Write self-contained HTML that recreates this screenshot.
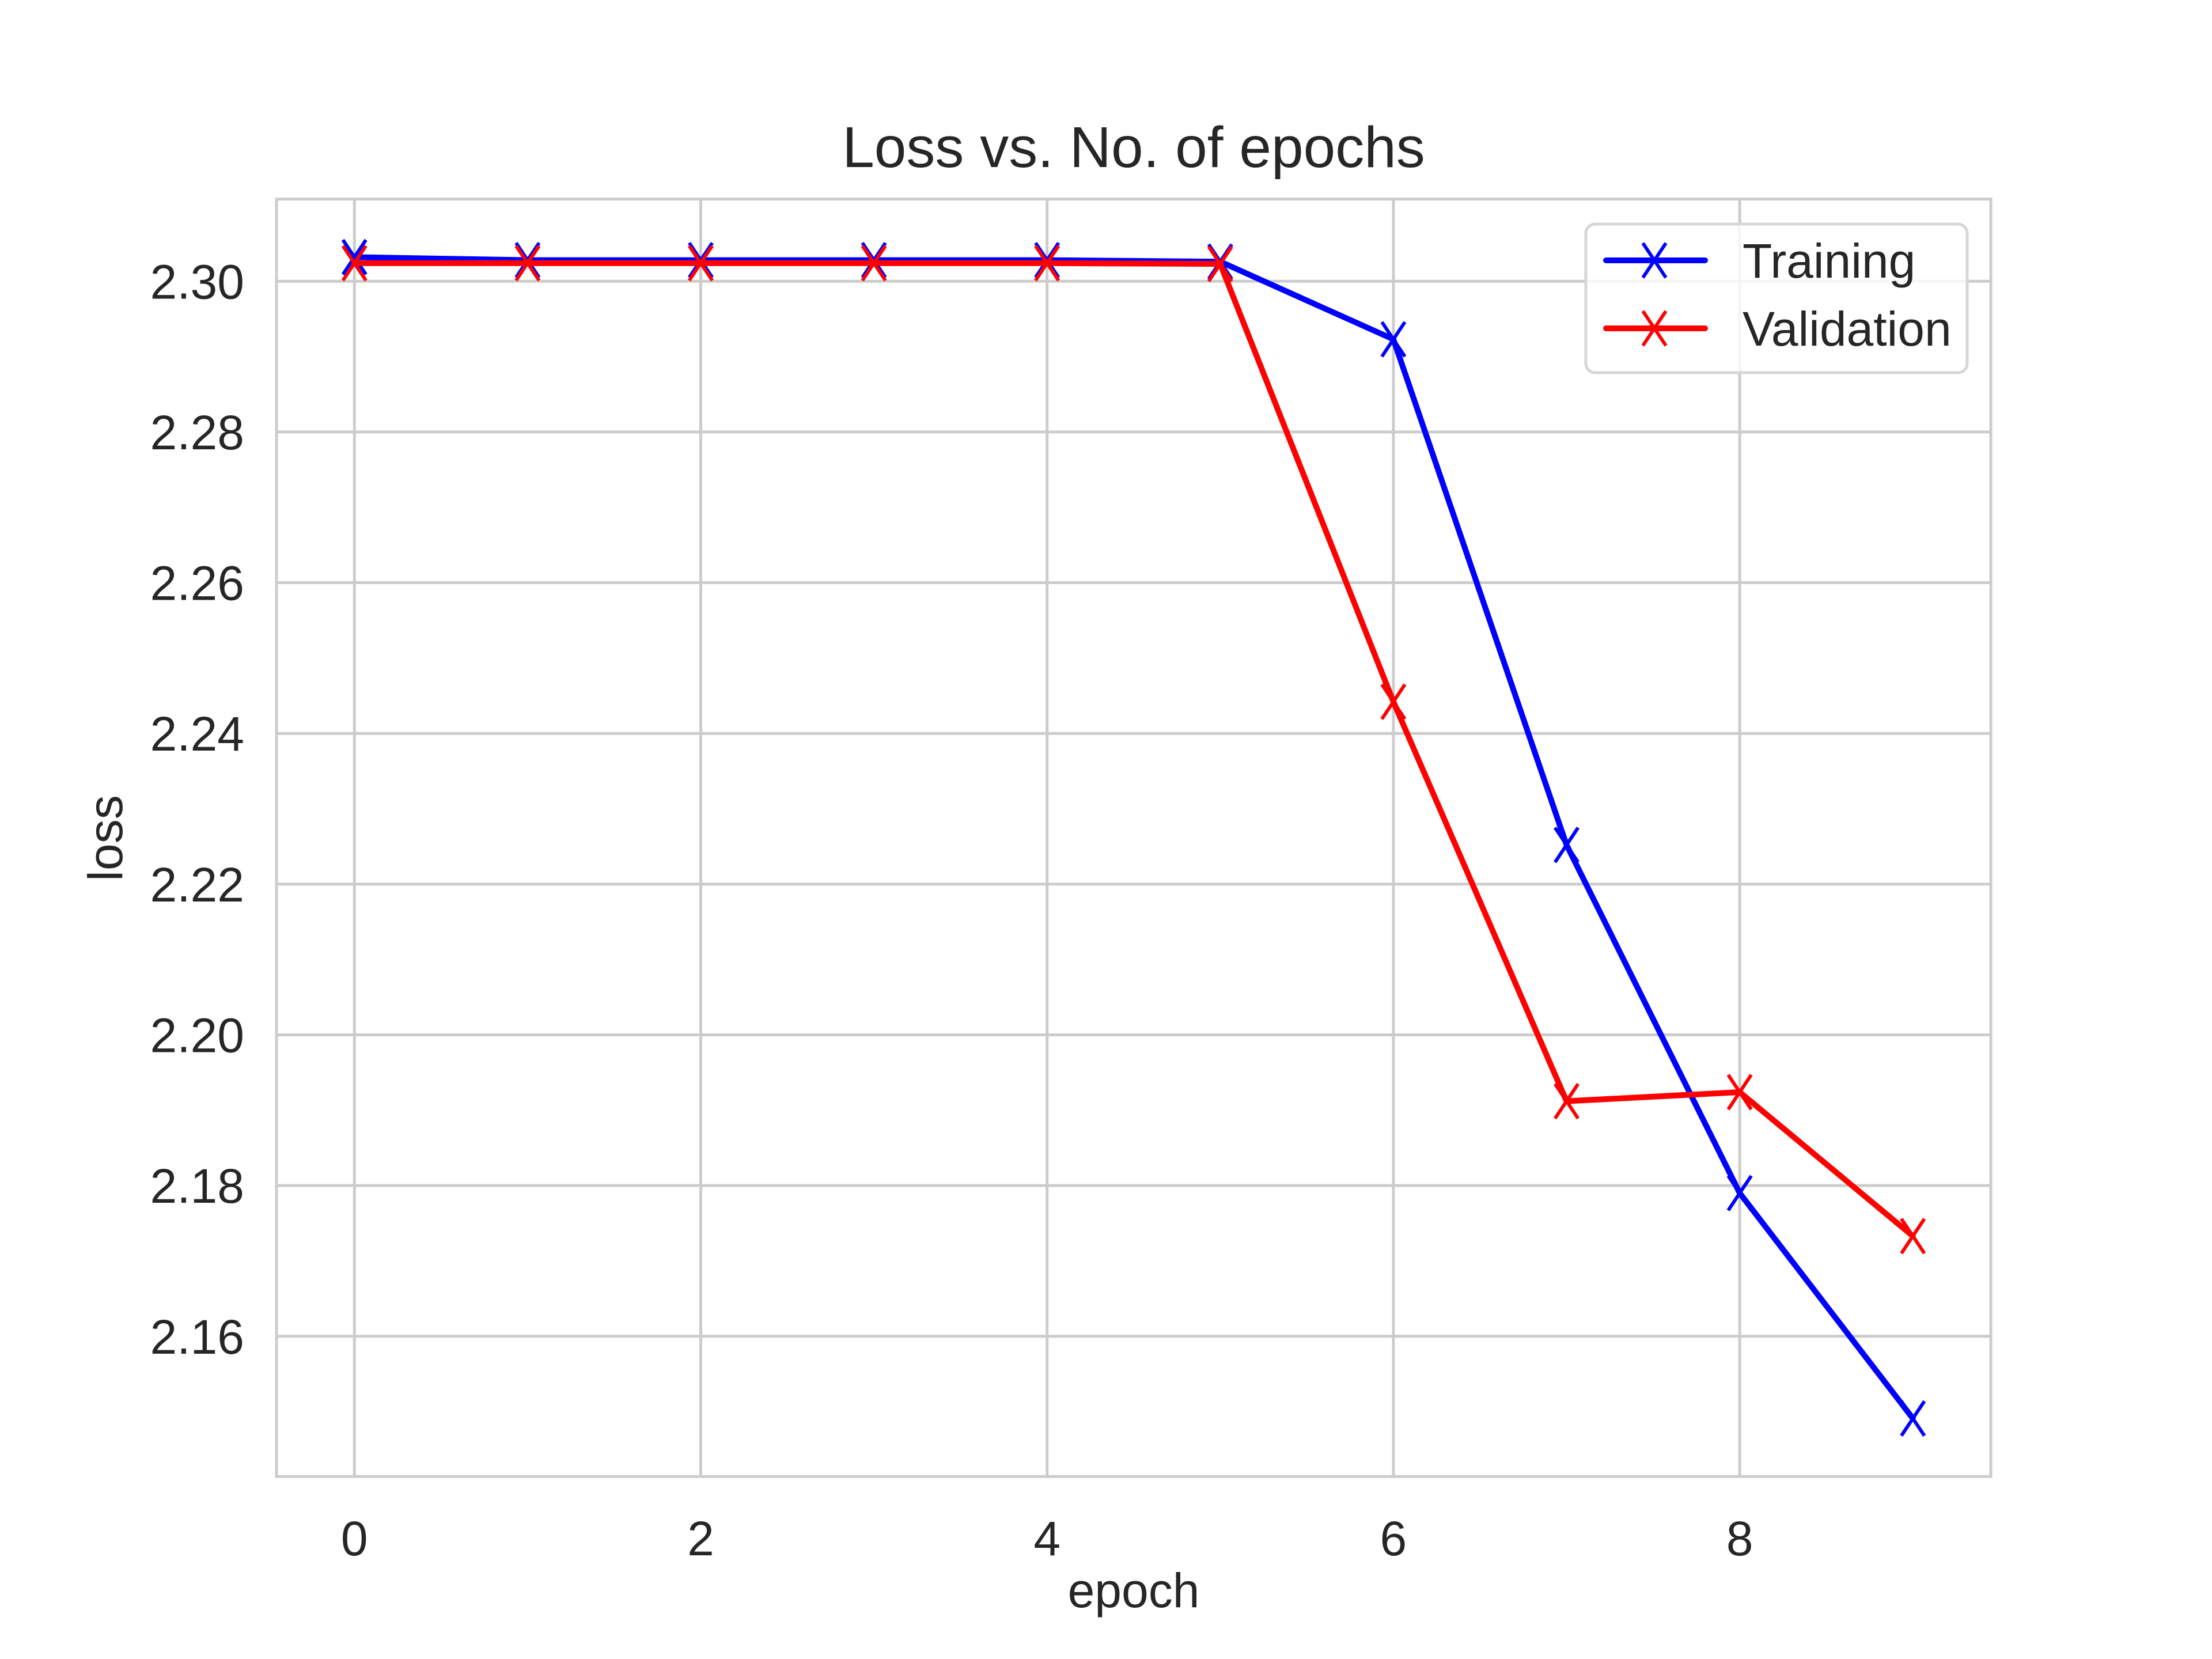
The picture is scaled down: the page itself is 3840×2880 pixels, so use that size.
<!DOCTYPE html>
<html><head><meta charset="utf-8"><style>
html,body{margin:0;padding:0;background:#fff;}
svg{display:block;font-family:"Liberation Sans",Arial,sans-serif;}
</style></head><body>
<svg id="chart" width="3840" height="2880" viewBox="0 0 3840 2880">
<rect width="3840" height="2880" fill="#fff"/>
<g id="grid"></g>
<g id="ticks"></g>
<g id="series"></g>
<rect x="480" y="345.6" width="2976" height="2217.6" fill="none" stroke="#cccccc" stroke-width="5"/>
<text x="1968" y="290" font-size="100" fill="#262626" text-anchor="middle">Loss vs. No. of epochs</text>
<text x="1968" y="2790" font-size="84" fill="#262626" text-anchor="middle">epoch</text>
<text x="0" y="0" font-size="84" fill="#262626" text-anchor="middle" transform="translate(212,1455) rotate(-90)">loss</text>
<g>
<rect x="2753" y="389" width="662" height="258" rx="16" fill="#fff" fill-opacity="0.8" stroke="#d6d6d6" stroke-width="5"/>
<g>
<line x1="2788" y1="452" x2="2960" y2="452" stroke="#0000ff" stroke-width="10" stroke-linecap="round"/>
<path d="M2852 422 L2892 482 M2892 422 L2852 482" stroke="#0000ff" stroke-width="6"/>
<text x="3025" y="482" font-size="84" fill="#262626">Training</text>
</g>
<g>
<line x1="2788" y1="570" x2="2960" y2="570" stroke="#ff0000" stroke-width="10" stroke-linecap="round"/>
<path d="M2852 540 L2892 600 M2892 540 L2852 600" stroke="#ff0000" stroke-width="6"/>
<text x="3025" y="600" font-size="84" fill="#262626">Validation</text>
</g>
</g>
</svg>
<script>
const epochs = [0,1,2,3,4,5,6,7,8,9];
const trainingLoss = [2.3032,2.3028,2.3028,2.3028,2.3028,2.3026,2.2923,2.2252,2.1790,2.1491];
const validationLoss = [2.3024,2.3024,2.3024,2.3024,2.3024,2.3023,2.2442,2.1912,2.1924,2.1733];
const xTicks = [0,2,4,6,8];
const yTicks = [2.16,2.18,2.20,2.22,2.24,2.26,2.28,2.30];

const NS = "http://www.w3.org/2000/svg";
const L=480, R=3456, T=345.6, B=2563.2;
const all = trainingLoss.concat(validationLoss);
const ymin0 = Math.min(...all), ymax0 = Math.max(...all);
const ypad = (ymax0-ymin0)*0.05;
const xmin0 = Math.min(...epochs), xmax0 = Math.max(...epochs);
const xpad = (xmax0-xmin0)*0.05;
function xs(v){return L+(v-(xmin0-xpad))/((xmax0+xpad)-(xmin0-xpad))*(R-L);}
function ys(v){return B-(v-(ymin0-ypad))/((ymax0+ypad)-(ymin0-ypad))*(B-T);}
function mk(tag,attrs,parent){const e=document.createElementNS(NS,tag);for(const k in attrs)e.setAttribute(k,attrs[k]);parent.appendChild(e);return e;}
const grid=document.getElementById('grid'), ticks=document.getElementById('ticks'), series=document.getElementById('series');
xTicks.forEach(t=>{
  const x=xs(t);
  const g=mk('line',{x1:x,x2:x,y1:T,y2:B,stroke:'#cccccc','stroke-width':5},grid);
  
  
  const tx=mk('text',{x:x,y:2700,'font-size':84,fill:'#262626','text-anchor':'middle'},ticks);
  tx.textContent=String(t);
  
  
});
yTicks.forEach(t=>{
  const y=ys(t);
  const g=mk('line',{x1:L,x2:R,y1:y,y2:y,stroke:'#cccccc','stroke-width':5},grid);
  
  
  const tx=mk('text',{x:424,y:y+30,'font-size':84,fill:'#262626','text-anchor':'end'},ticks);
  tx.textContent=t.toFixed(2);
  
  
});
function drawSeries(vals,color,name){
  const g=mk('g',{},series);
  
  
  const pts=vals.map((v,i)=>xs(epochs[i])+','+ys(v)).join(' ');
  const pl=mk('polyline',{points:pts,fill:'none',stroke:color,'stroke-width':10,'stroke-linejoin':'round','stroke-linecap':'round'},g);
  
  
  vals.forEach((v,i)=>{
    const x=xs(epochs[i]), y=ys(v), s=20;
    const p=mk('path',{d:`M${x-s} ${y-s*1.5} L${x+s} ${y+s*1.5} M${x+s} ${y-s*1.5} L${x-s} ${y+s*1.5}`,stroke:color,'stroke-width':6,fill:'none'},g);
    
    
  });
}
drawSeries(trainingLoss,'#0000ff','training-series');
drawSeries(validationLoss,'#ff0000','validation-series');
</script>
</body></html>
